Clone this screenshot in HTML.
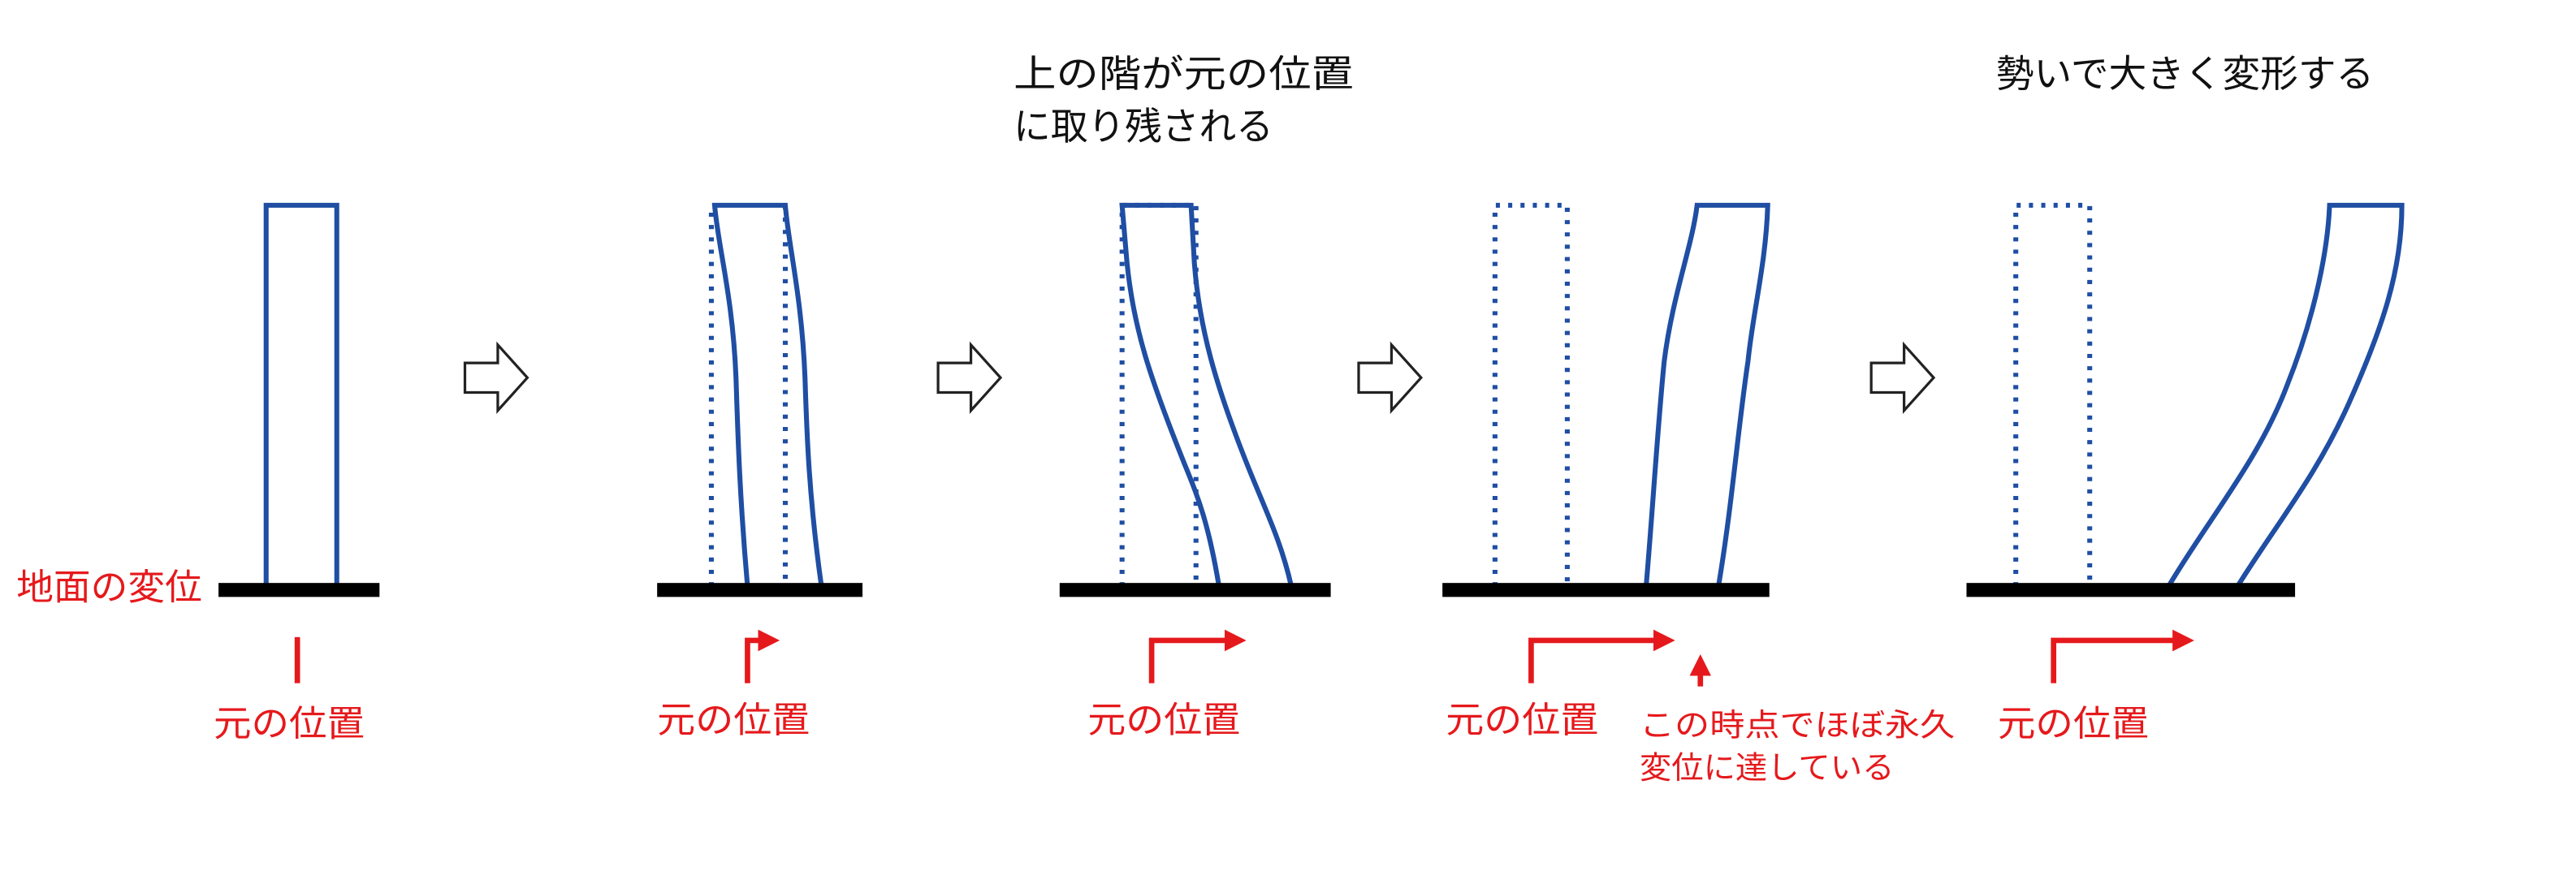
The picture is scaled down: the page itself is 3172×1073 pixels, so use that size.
<!DOCTYPE html>
<html><head><meta charset="utf-8">
<style>
html,body{margin:0;padding:0;background:#fff;}
svg{display:block;}
text{font-family:"Liberation Sans","Noto Sans CJK JP",sans-serif;}
</style></head>
<body>
<svg width="3172" height="1073" viewBox="0 0 1568 530.4" preserveAspectRatio="none" xmlns="http://www.w3.org/2000/svg">
<defs>
<marker id="ah" markerWidth="4" markerHeight="4" refX="2" refY="2" orient="auto" markerUnits="strokeWidth">
<path d="M0,0 L4,2 L0,4 z" fill="#e5191c"/>
</marker>
</defs>
<g fill="none" stroke="#1f4ea3" stroke-width="3">
<path d="M162,357 L162,125 L205,125 L205,357"/>
<path d="M433,357 L433,125 M478,125 L478,357" stroke-dasharray="2.5,5"/>
<path d="M455,357 C450,300 449,260 448,230 C446,180 437,150 435,125 L478,125 C480,150 488,180 490,230 C491,260 492,300 500,357"/>
<path d="M683,357 L683,125 L728,125 L728,357" stroke-dasharray="2.5,5"/>
<path d="M742,357 C735,315 728,300 720,280 C700,230 690,200 686,160 L683,125 L725,125 L727,160 C730,200 740,235 760,285 C770,310 780,330 786,357"/>
<path d="M910,357 L910,125 L954,125 L954,357" stroke-dasharray="2.5,5"/>
<path d="M1002,357 C1006,310 1009,260 1013,220 C1018,180 1030,150 1033,125 L1076,125 C1075,160 1067,190 1064,220 C1058,260 1054,310 1046,357"/>
<path d="M1227,357 L1227,125 L1272,125 L1272,357" stroke-dasharray="2.5,5"/>
<path d="M1320,357 C1345,315 1375,280 1392,235 C1410,190 1417,150 1418,125 L1462,125 C1462,165 1450,200 1430,245 C1410,290 1385,320 1362,357"/>
</g>
<g fill="#000">
<rect x="133" y="355" width="98" height="8.5"/>
<rect x="400" y="355" width="125" height="8.5"/>
<rect x="645" y="355" width="165" height="8.5"/>
<rect x="878" y="355" width="199" height="8.5"/>
<rect x="1197" y="355" width="200" height="8.5"/>
</g>
<g fill="#fff" stroke="#222" stroke-width="1.6">
<path d="M283,221 L303,221 L303,210 L321,230 L303,250 L303,239 L283,239 z"/>
<path d="M571,221 L591,221 L591,210 L609,230 L591,250 L591,239 L571,239 z"/>
<path d="M827,221 L847,221 L847,210 L865,230 L847,250 L847,239 L827,239 z"/>
<path d="M1139,221 L1159,221 L1159,210 L1177,230 L1159,250 L1159,239 L1139,239 z"/>
</g>
<g fill="none" stroke="#e5191c" stroke-width="3.3">
<path d="M181,388 L181,416"/>
<path d="M455,416 L455,390 L468,390" marker-end="url(#ah)"/>
<path d="M701,416 L701,390 L752,390" marker-end="url(#ah)"/>
<path d="M932,416 L932,390 L1013,390" marker-end="url(#ah)"/>
<path d="M1035,418 L1035,405" marker-end="url(#ah)"/>
<path d="M1250,416 L1250,390 L1329,390" marker-end="url(#ah)"/>
</g>
<g fill="#e5191c" font-size="22">
<text x="10" y="365" textLength="113" lengthAdjust="spacingAndGlyphs">地面の変位</text>
<text x="130" y="448" textLength="92" lengthAdjust="spacingAndGlyphs">元の位置</text>
<text x="400" y="446" textLength="93" lengthAdjust="spacingAndGlyphs">元の位置</text>
<text x="662" y="446" textLength="93" lengthAdjust="spacingAndGlyphs">元の位置</text>
<text x="880" y="446" textLength="93" lengthAdjust="spacingAndGlyphs">元の位置</text>
<text x="1216" y="448" textLength="92" lengthAdjust="spacingAndGlyphs">元の位置</text>
</g>
<g fill="#e5191c" font-size="19">
<text x="998" y="448" textLength="192" lengthAdjust="spacingAndGlyphs">この時点でほぼ永久</text>
<text x="998" y="474" textLength="155" lengthAdjust="spacingAndGlyphs">変位に達している</text>
</g>
<g fill="#111" font-size="23">
<text x="617" y="53" textLength="207" lengthAdjust="spacingAndGlyphs">上の階が元の位置</text>
<text x="617" y="85" textLength="158" lengthAdjust="spacingAndGlyphs">に取り残される</text>
<text x="1215" y="53" textLength="230" lengthAdjust="spacingAndGlyphs">勢いで大きく変形する</text>
</g>
</svg>
</body></html>
